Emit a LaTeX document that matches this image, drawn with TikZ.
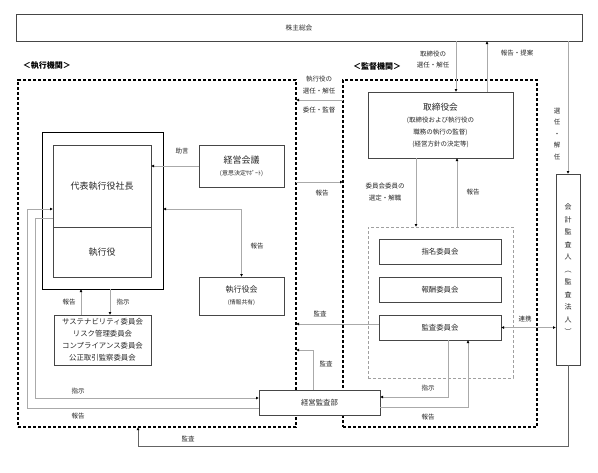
\documentclass[tikz,border=0pt]{standalone}
\usepackage{fontspec}
\setmainfont{Noto Sans CJK JP}
\usetikzlibrary{arrows.meta}
\definecolor{boxgray}{RGB}{70,70,70}
\definecolor{linegray}{RGB}{170,170,170}
\definecolor{darkline}{RGB}{100,100,100}
\definecolor{framegray}{RGB}{160,160,160}
\definecolor{textblack}{RGB}{40,40,40}

\begin{document}
\begin{tikzpicture}[
        x=1pt, y=-1pt,
        box/.style={rectangle, draw=boxgray, line width=0.7pt, fill=white, inner sep=0pt, outer sep=0pt, align=center, text=textblack},
        bigbox/.style={box, font=\fontsize{9}{12}\selectfont},
        midbox/.style={box, font=\fontsize{7.4}{12}\selectfont},
        frame/.style={rectangle, draw=black, line width=1.1pt, dash pattern=on 3.2pt off 1.8pt, inner sep=0pt, outer sep=0pt},
        subframe/.style={rectangle, draw=framegray, line width=0.5pt, dash pattern=on 3pt off 2pt, inner sep=0pt, outer sep=0pt},
        lbl/.style={font=\fontsize{6.5}{11.5}\selectfont, text=textblack, inner sep=0pt, align=center},
        title/.style={font=\fontsize{8}{10}\selectfont\bfseries, text=black, inner sep=0pt},
        flow/.style={draw=linegray, line width=0.7pt, -{Latex[length=3pt, width=3pt, color=black]}},
        biflow/.style={draw=linegray, line width=0.7pt, {Latex[length=3pt, width=3pt, color=black]}-{Latex[length=3pt, width=3pt, color=black]}},
        darkflow/.style={draw=darkline, line width=0.8pt, -{Latex[length=3pt, width=3pt, color=black]}}
    ]
    \useasboundingbox (0,0) rectangle (598,472);

    % Groups
    \node[title] (exectitle) at (47,66) {＜執行機関＞};
    \node[title] (suptitle) at (377,66) {＜監督機関＞};
    \node[frame, minimum width=278pt, minimum height=347pt] (execgrp) at (157,253.5) {};
    \node[frame, minimum width=194pt, minimum height=347pt] (supgrp) at (440,253.5) {};

    % Shareholders and auditor
    \node[box, font=\fontsize{6.7}{8}\selectfont, line width=0.9pt, minimum width=566pt, minimum height=27pt] (agm) at (299,27.5) {株主総会};
    \node[box, font=\fontsize{7}{12.5}\selectfont, line width=0.9pt, minimum width=24pt, minimum height=191pt] (auditor) at (568,269.5) {会\\計\\監\\査\\人\\︵\\監\\査\\法\\人\\︶};

    % Executive side
    \node[box, draw=black, line width=1pt, minimum width=121pt, minimum height=157pt] (ceogrp) at (102.5,210.5) {};
    \node[bigbox, minimum width=98pt, minimum height=82pt] (ceo) at (102,186) {代表執行役社長};
    \node[bigbox, minimum width=98pt, minimum height=50pt] (officers) at (102,252) {執行役};
    \node[box, minimum width=85pt, minimum height=42pt] (meeting) at (241.5,166) {{\fontsize{9}{12}\selectfont 経営会議}\\{\fontsize{6}{8}\selectfont (意思決定ｻﾎﾟｰﾄ)}};
    \node[box, minimum width=85pt, minimum height=38pt] (execmtg) at (241.5,296) {{\fontsize{8}{10}\selectfont 執行役会}\\{\fontsize{5.8}{8}\selectfont (情報共有)}};
    \node[midbox, minimum width=97pt, minimum height=50pt] (cmte) at (102.5,340) {サステナビリティ委員会\\リスク管理委員会\\コンプライアンス委員会\\公正取引監察委員会};

    % Supervisory side
    \node[box, minimum width=145pt, minimum height=66pt] (board) at (440.5,125) {{\fontsize{8.7}{12}\selectfont 取締役会}\\{\fontsize{6.5}{10.5}\selectfont (取締役および執行役の}\\{\fontsize{6.5}{10.5}\selectfont 職務の執行の監督)}\\{\fontsize{6.5}{10.5}\selectfont (経営方針の決定等)}};
    \node[subframe, minimum width=145pt, minimum height=151pt] (cmtgrp) at (440.5,302.5) {};
    \node[midbox, minimum width=122pt, minimum height=25pt] (nomcm) at (440,251.5) {指名委員会};
    \node[midbox, minimum width=122pt, minimum height=25pt] (remcm) at (440,289.5) {報酬委員会};
    \node[midbox, minimum width=122pt, minimum height=25pt] (auditcm) at (440,327.5) {監査委員会};

    % Internal audit
    \node[midbox, minimum width=121pt, minimum height=25pt] (iad) at (319.5,402.5) {経営監査部};

    % Shareholder flows
    \draw[flow] ([xshift=15.5pt]board.north |- agm.south) -- ([xshift=15.5pt]board.north);
    \draw[flow] ([xshift=46.5pt]board.north) -- ([xshift=46.5pt]board.north |- agm.south);
    \draw[flow] (auditor.north |- agm.south) -- (auditor.north);
    \node[lbl] (lbldirsel) at (433,59.5) {取締役の\\選任・解任};
    \node[lbl] (lblprop) at (517,53) {報告・提案};
    \node[lbl] (lblaudsel) at (557,134) {選\\任\\・\\解\\任};

    % Between the two sides
    \draw[flow] ([yshift=-20pt]supgrp.north west) -- ([yshift=-20pt]execgrp.north east);
    \draw[flow] ([yshift=-102pt]execgrp.north east) -- ([yshift=-102pt]supgrp.north west);
    \node[lbl] (lbloffsel) at (319,85) {執行役の\\選任・解任};
    \node[lbl] (lbldeleg) at (319,110) {委任・監督};
    \node[lbl] (lblrep1) at (322,193) {報告};

    % Executive flows
    \draw[flow] (meeting.west) -- (meeting.west -| ceo.east);
    \node[lbl] (lbladv) at (182,151) {助言};
    \draw[biflow] ([yshift=-77pt]ceogrp.north east) -| (execmtg.north);
    \node[lbl] (lblrep2) at (257,246) {報告};
    \draw[flow] ([xshift=-21.5pt]cmte.north) -- ([xshift=-21.5pt]cmte.north |- ceogrp.south);
    \draw[flow] ([xshift=7.5pt]cmte.north |- ceogrp.south) -- ([xshift=7.5pt]cmte.north);
    \node[lbl] (lblrep3) at (69,302) {報告};
    \node[lbl] (lblins1) at (123,302) {指示};
    \draw[flow] ([yshift=-73pt]ceo.north west) -- ++(-18,0) |- ([yshift=4.5pt]iad.west);
    \draw[flow] ([yshift=-5.5pt]iad.west) -- ++(-232,0) |- ([yshift=-64pt]ceo.north west);
    \node[lbl] (lblins2) at (78,391) {指示};
    \node[lbl] (lblrep4) at (78,416) {報告};

    % Supervisory flows
    \draw[flow] ([xshift=-24.5pt]board.south) -- ([xshift=-24.5pt]board.south |- cmtgrp.north);
    \draw[flow] ([xshift=16.5pt]board.south |- cmtgrp.north) -- ([xshift=16.5pt]board.south);
    \node[lbl] (lblmemsel) at (385,192) {委員会委員の\\選定・解職};
    \node[lbl] (lblrep5) at (473,192) {報告};
    \draw[flow] ([yshift=3.5pt]auditcm.west) -- ([yshift=3.5pt]auditcm.west -| execgrp.east);
    \node[lbl] (lblaud1) at (320,314) {監査};
    \draw[biflow] (auditcm.east) -- (auditcm.east -| auditor.west);
    \node[lbl] (lblcoop) at (525,319) {連携};
    \draw[flow] ([xshift=8pt]auditcm.south) |- ([yshift=5.5pt]iad.east);
    \draw[flow] ([yshift=-4.5pt]iad.east) -| ([xshift=28pt]auditcm.south);
    \node[lbl] (lblins3) at (428,388) {指示};
    \node[lbl] (lblrep6) at (428,417) {報告};

    % Audit flows
    \draw[flow] ([xshift=-6.5pt]iad.north) |- ([yshift=77pt]execgrp.south east);
    \node[lbl] (lblaud2) at (326,364) {監査};
    \draw[darkflow] (auditor.south) -- ++(0,81) -| ([xshift=120pt]execgrp.south west);
    \node[lbl] (lblaud3) at (188,439) {監査};

\end{tikzpicture}
\end{document}
